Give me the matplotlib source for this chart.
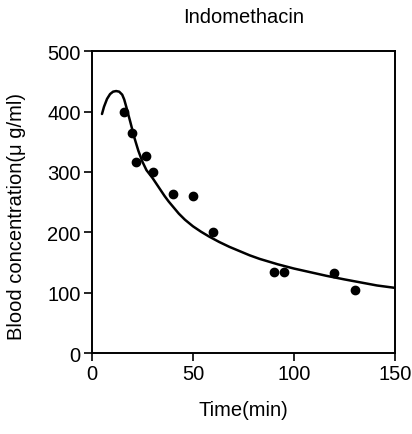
import numpy as np
import matplotlib
matplotlib.use("Agg")
import matplotlib.pyplot as plt

# measured blood levels
t_obs = [16, 20, 22, 27, 30, 40, 50, 60, 90, 95, 120, 130]
c_obs = [400, 365, 317, 327, 300, 263, 260, 200, 135, 135, 132, 105]

# fitted curve, read point by point
t_fit = [5, 6, 7.5, 9, 10.5, 12, 13.5, 15, 16, 17, 19, 21, 23, 25, 27, 30, 32, 34, 36,
         38, 40, 43, 46, 50, 54, 58, 63, 68, 73, 78, 83, 88, 92, 100, 108, 116, 125,
         133, 141, 150]
c_fit = [396, 408, 421, 429, 433, 434, 433, 428, 420, 408, 383, 357, 335, 317, 303, 290,
         280, 270, 260, 251, 243, 231, 221, 210, 201, 193, 184, 176, 169, 162, 156, 151,
         147, 140, 134, 128, 122, 117, 112, 108]

xticks = [0, 50, 100, 150]
yticks = [0, 100, 200, 300, 400, 500]

plt.rcParams['font.family'] = ['Liberation Sans', 'DejaVu Sans']

fig = plt.figure(figsize=(4.12, 4.35), dpi=100)
ax = fig.add_axes([0.223, 0.186, 0.736, 0.694])

ax.plot(t_fit, c_fit, color="black", linewidth=1.8, solid_capstyle="round",
        solid_joinstyle="round")
ax.plot(t_obs, c_obs, "o", color="black", markersize=6)

ax.set_xlim(0, 150)
ax.set_ylim(0, 500)
ax.set_xticks(xticks)
ax.set_yticks(yticks)
ax.tick_params(direction="out", length=6, width=1.2, labelsize=14.5, pad=2)
for s in ax.spines.values():
    s.set_linewidth(1.4)

ax.set_title("Indomethacin", fontsize=14.5, pad=21)
ax.set_xlabel("Time(min)", fontsize=14.5, labelpad=12)
ax.set_ylabel("Blood concentration(\u03bc g/ml)", fontsize=14.5)
ax.yaxis.set_label_coords(-0.218, 0.455)

fig.savefig("out.png", dpi=100)
